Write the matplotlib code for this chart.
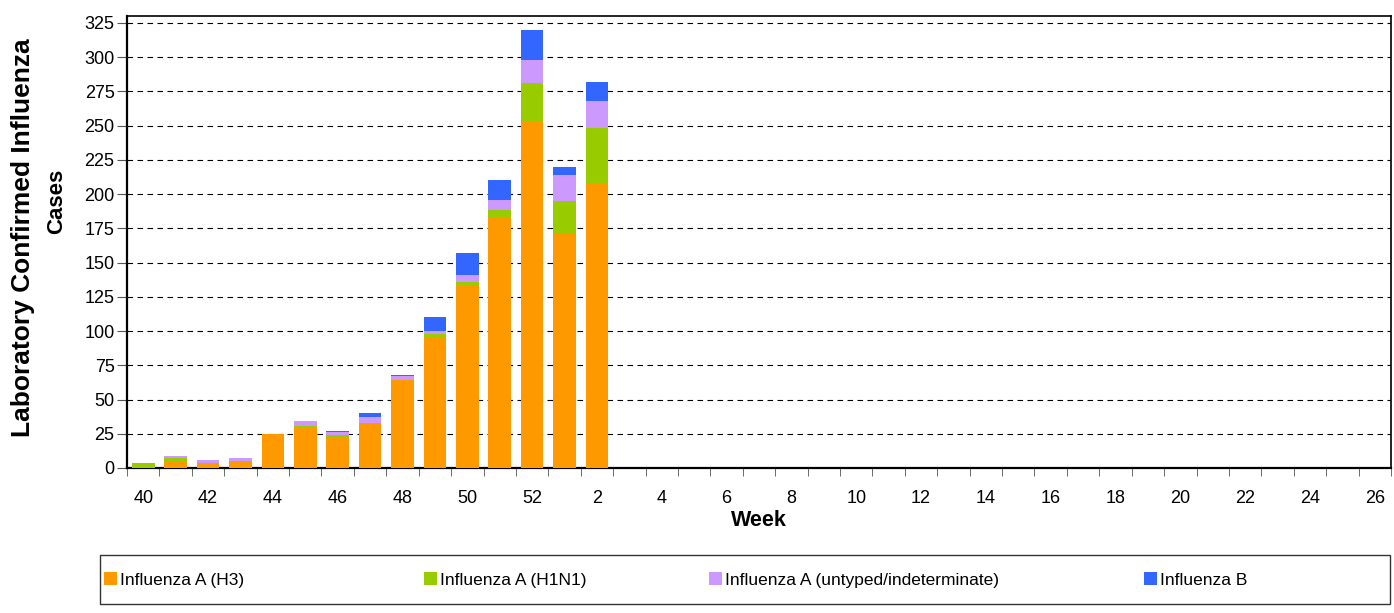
import matplotlib
matplotlib.use("Agg")
import matplotlib.pyplot as plt
from matplotlib.patches import Patch, Rectangle
import numpy as np

plt.rcParams['font.family'] = ['Liberation Sans', 'DejaVu Sans']

weeks = list(range(40, 53)) + list(range(1, 27))
# values for weeks 40..52, 1, 2 ; rest of season is zero
h3 = [1, 5, 4, 5, 25, 30, 22, 33, 64, 96, 133, 183, 253, 171, 208]
h1n1 = [3, 2, 0, 0, 0, 1, 2, 0, 0, 2, 3, 5, 28, 24, 40]
untyped = [0, 2, 2, 2, 0, 3, 2, 4, 3, 2, 5, 8, 17, 19, 20]
flu_b = [0, 0, 0, 0, 0, 0, 1, 3, 1, 10, 16, 14, 22, 6, 14]

names = ['Influenza A (H3)', 'Influenza A (H1N1)',
         'Influenza A (untyped/indeterminate)', 'Influenza B']
colors = ['#FF9900', '#99CC00', '#CC99FF', '#3366FF']

n = len(weeks)
pad = [0] * (n - len(h3))
series = [np.array(s + pad) for s in (h3, h1n1, untyped, flu_b)]

fig = plt.figure(figsize=(13.94, 6.13), dpi=100)
ax = fig.add_axes([127/1394, 1 - 468/613, (1391 - 127)/1394, (468 - 16)/613])

x = np.arange(n)
bottom = np.zeros(n)
for s, c in zip(series, colors):
    ax.bar(x, s, bottom=bottom, width=0.7, color=c, zorder=3)
    bottom += s

ax.set_xlim(-0.5, n - 0.5)
ax.set_ylim(0, 330)
ax.set_yticks(np.arange(0, 326, 25))
ax.yaxis.grid(True, color='black', linestyle=(0, (5, 4)), linewidth=0.8, zorder=1)

ax.set_xticks(x[::2])
ax.set_xticklabels([str(w) for w in weeks[::2]])
ax.set_xticks(np.arange(-0.5, n, 1), minor=True)
ax.tick_params(axis='x', which='major', length=0, pad=16, labelsize=13)
ax.tick_params(axis='x', which='minor', length=6, color='#555555', direction='out')
ax.tick_params(axis='y', length=7, labelsize=13, color='#555555', pad=2)

for side in ['left', 'bottom']:
    ax.spines[side].set_linewidth(1.6)
for side in ['top', 'right']:
    ax.spines[side].set_linewidth(1.2)

fig.text(127/1394 + (1391 - 127)/1394/2, 1 - 520/613, 'Week', ha='center', va='center',
         fontsize=15.5, fontweight='bold')
fig.text(23/1394, 1 - 238/613, 'Laboratory Confirmed Influenza', rotation=90,
         ha='center', va='center', fontsize=19, fontweight='bold')
fig.text(57/1394, 1 - 201/613, 'Cases', rotation=90,
         ha='center', va='center', fontsize=16, fontweight='bold')

# legend box
fig.patches.append(Rectangle((100/1394, 1 - 604/613), 1290/1394, 49/613,
                             transform=fig.transFigure, fill=False,
                             edgecolor='#333333', linewidth=1.0))
leg_x = [104, 424, 709, 1144]
for name, c, lx in zip(names, colors, leg_x):
    fig.legend(handles=[Patch(facecolor=c, edgecolor='none')], labels=[name],
               loc='center left', bbox_to_anchor=(lx/1394, 1 - 580/613),
               frameon=False, fontsize=12.5, handlelength=0.75, handleheight=0.75,
               handletextpad=0.15, borderpad=0, borderaxespad=0)

fig.savefig('out.png', dpi=100)
